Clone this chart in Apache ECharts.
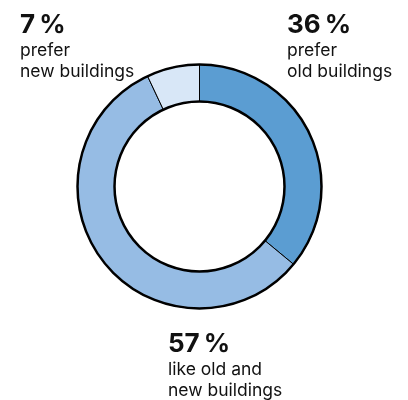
<!DOCTYPE html>
<html><head><meta charset="utf-8">
<script src="https://cdn.jsdelivr.net/npm/echarts@6/dist/echarts.min.js"></script>
<style>html,body{margin:0;padding:0;background:#fff}#c{width:408px;height:400px}</style>
</head><body><div id="c"></div>
<script>
var categories = ['prefer\nold buildings', 'like old and\nnew buildings', 'prefer\nnew buildings'];
var values = [36, 57, 7];
var colors = ['#5b9dd2', '#96bce4', '#d8e7f7'];
var labelPos = [[287, 10], [168, 329], [20, 10]];

var chart = echarts.init(document.getElementById('c'), null, {renderer: 'canvas'});
chart.setOption({
  animation: false,
  series: [{
    type: 'pie',
    center: [199.5, 186.5],
    radius: [85, 122],
    startAngle: 90,
    clockwise: true,
    data: values.map(function (v, i) {
      return {value: v, name: categories[i], itemStyle: {color: colors[i]}};
    }),
    itemStyle: {borderColor: '#000', borderWidth: 1},
    label: {
      show: true,
      position: 'inside',
      overflow: 'none',
      formatter: function (p) { return '{b|' + p.value + '\u2009%}\n{t|' + p.name.replace('\n', '}\n{t|') + '}'; },
      rich: {
        b: {fontFamily: 'Inter', fontWeight: 'bold', fontSize: 26, lineHeight: 30, color: '#111'},
        t: {fontFamily: 'Inter', fontSize: 17.5, lineHeight: 21, color: '#111'}
      }
    },
    labelLine: {show: false},
    labelLayout: function (p) {
      var pos = labelPos[p.dataIndex];
      return {x: pos[0], y: pos[1], align: 'left', verticalAlign: 'top', hideOverlap: false};
    },
    emphasis: {disabled: true}
  }, {
    type: 'pie',
    silent: true,
    center: [199.5, 186.5],
    radius: [85, 122],
    data: [{value: 1, itemStyle: {color: 'rgba(0,0,0,0)', borderColor: '#000', borderWidth: 2.5}}],
    label: {show: false},
    labelLine: {show: false},
    emphasis: {disabled: true}
  }]
});
</script></body></html>
